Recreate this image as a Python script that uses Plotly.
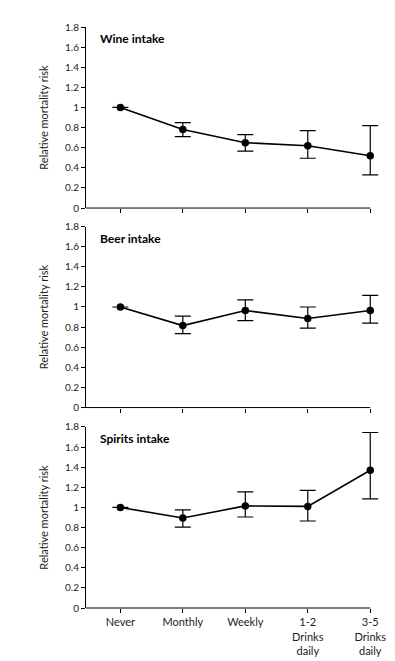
import plotly.graph_objects as go
from plotly.subplots import make_subplots

categories = ["Never", "Monthly", "Weekly", "1-2<br>Drinks<br>daily", "3-5<br>Drinks<br>daily"]
panel_titles = ["Wine intake", "Beer intake", "Spirits intake"]

wine = [1.0, 0.78, 0.65, 0.62, 0.52]
wine_hi = [1.0, 0.85, 0.73, 0.77, 0.82]
wine_lo = [1.0, 0.71, 0.565, 0.495, 0.33]

beer = [1.0, 0.815, 0.965, 0.885, 0.965]
beer_hi = [1.0, 0.91, 1.07, 1.0, 1.115]
beer_lo = [1.0, 0.735, 0.865, 0.79, 0.84]

spirits = [1.0, 0.895, 1.015, 1.01, 1.37]
spirits_hi = [1.0, 0.975, 1.155, 1.17, 1.745]
spirits_lo = [1.0, 0.805, 0.905, 0.865, 1.085]

y_ticks = [0, 0.2, 0.4, 0.6, 0.8, 1, 1.2, 1.4, 1.6, 1.8]
y_tick_labels = ["0", "0.2", "0.4", "0.6", "0.8", "1", "1.2", "1.4", "1.6", "1.8"]

series = [(wine, wine_hi, wine_lo), (beer, beer_hi, beer_lo), (spirits, spirits_hi, spirits_lo)]

FONT = "Lato, 'Open Sans', sans-serif"
X_MIN, X_MAX, X_LINE_END = -0.55, 4.14, 4.0

fig = make_subplots(rows=3, cols=1, shared_xaxes=False, vertical_spacing=0.0)

domains = [(0.6884, 1.0), (0.345, 0.6566), (0.0, 0.3116)]
xs = list(range(len(categories)))

for i, (vals, hi, lo) in enumerate(series):
    r = i + 1
    fig.add_trace(go.Scatter(
        x=xs, y=vals, mode="lines+markers",
        line=dict(color="black", width=1.6),
        marker=dict(color="black", size=7.5),
        error_y=dict(type="data", symmetric=False,
                     array=[h - v for h, v in zip(hi, vals)],
                     arrayminus=[v - l for v, l in zip(vals, lo)],
                     color="black", thickness=1.2, width=8),
        cliponaxis=False, showlegend=False), row=r, col=1)
    ya = "yaxis" if r == 1 else f"yaxis{r}"
    fig.layout[ya].domain = domains[i]
    fig.update_yaxes(range=[0, 1.8], tickvals=y_ticks, ticktext=y_tick_labels,
                     showline=True, linecolor="black", linewidth=1,
                     ticks="outside", ticklen=4, tickcolor="black", tickwidth=1,
                     showgrid=False, zeroline=False,
                     tickfont=dict(family=FONT, size=10, color="#222"),
                     title=dict(text="Relative mortality risk", standoff=14,
                                font=dict(family=FONT, size=11, color="#222")),
                     row=r, col=1)
    fig.update_xaxes(range=[X_MIN, X_MAX], tickvals=xs,
                     ticktext=categories if r == 3 else [""] * 5,
                     showline=False,
                     ticks="outside", ticklen=4, tickcolor="black", tickwidth=1,
                     showgrid=False, zeroline=False,
                     tickfont=dict(family=FONT, size=11, color="#222"),
                     row=r, col=1)
    xref = "x" if r == 1 else f"x{r}"
    yref = "y domain" if r == 1 else f"y{r} domain"
    fig.add_shape(type="line", xref=xref, yref=yref, x0=X_MIN, x1=X_LINE_END,
                  y0=0, y1=0, line=dict(color="black", width=1))
    fig.add_annotation(text=f"<b>{panel_titles[i]}</b>", xref=xref + " domain", yref=yref,
                       x=0.04, y=0.935, xanchor="left", yanchor="middle",
                       showarrow=False, font=dict(family=FONT, size=12, color="black"))

fig.update_layout(width=395, height=661, margin=dict(l=78, r=24, t=15, b=49),
                  plot_bgcolor="white", paper_bgcolor="white")

fig.write_html("out.html")
